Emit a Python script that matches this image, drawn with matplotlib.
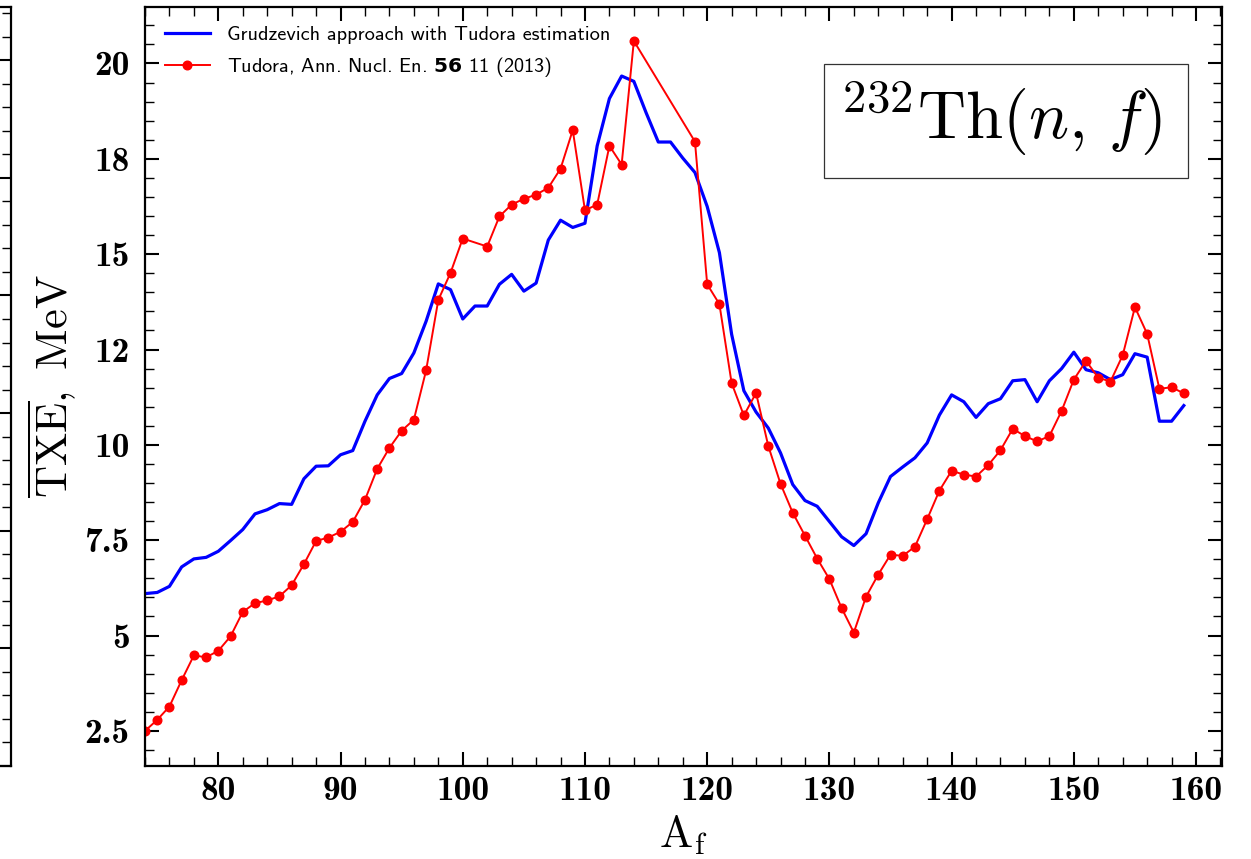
import matplotlib
matplotlib.use("Agg")
import matplotlib.pyplot as plt
import numpy as np
from matplotlib.font_manager import FontProperties
from matplotlib.patches import Rectangle
from matplotlib.ticker import MultipleLocator

plt.rcParams["mathtext.fontset"] = "cm"

# Grudzevich approach with Tudora estimation (every fragment mass)
a_grud = np.arange(74, 160)
txe_grud = [6.10, 6.13, 6.29, 6.80, 7.01, 7.05, 7.21, 7.49, 7.78, 8.19,
            8.30, 8.46, 8.44, 9.11, 9.44, 9.45, 9.74, 9.85, 10.62, 11.31,
            11.74, 11.87, 12.41, 13.24, 14.22, 14.07, 13.30, 13.64, 13.64, 14.21,
            14.47, 14.03, 14.24, 15.37, 15.89, 15.70, 15.81, 17.84, 19.08, 19.67,
            19.53, 18.71, 17.94, 17.94, 17.52, 17.14, 16.25, 15.04, 12.90, 11.42,
            10.86, 10.44, 9.79, 8.96, 8.54, 8.39, 7.99, 7.59, 7.36, 7.67,
            8.48, 9.17, 9.42, 9.66, 10.05, 10.78, 11.31, 11.13, 10.72, 11.08,
            11.21, 11.68, 11.71, 11.13, 11.68, 12.00, 12.43, 11.97, 11.89, 11.71,
            11.84, 12.39, 12.30, 10.62, 10.62, 11.03]

# Tudora, Ann. Nucl. En. 56 (2013)
a_tud = list(range(74, 101)) + list(range(102, 115)) + list(range(119, 160))
txe_tud = [2.50, 2.79, 3.14, 3.83, 4.48, 4.43, 4.60, 4.98, 5.62, 5.85,
           5.92, 6.03, 6.32, 6.87, 7.48, 7.57, 7.72, 7.98, 8.56, 9.37,
           9.92, 10.37, 10.66, 11.95, 13.80, 14.51, 15.41,
           15.20, 15.99, 16.30, 16.45, 16.56, 16.74, 17.24, 18.25, 16.15, 16.30,
           17.84, 17.35, 20.59,
           17.95, 14.21, 13.69, 11.62, 10.77, 11.36, 9.97, 8.98, 8.22, 7.62,
           7.02, 6.48, 5.72, 5.08, 6.02, 6.60, 7.12, 7.09, 7.33, 8.05,
           8.80, 9.32, 9.22, 9.17, 9.47, 9.86, 10.42, 10.23, 10.09, 10.23,
           10.89, 11.71, 12.20, 11.76, 11.66, 12.35, 13.61, 12.91, 11.47, 11.51,
           11.35]

ytick_pos = [2.5, 5, 7.5, 10, 12.5, 15, 17.5, 20]
ytick_lab = ["2.5", "5", "7.5", "10", "12", "15", "18", "20"]
xtick_pos = [80, 90, 100, 110, 120, 130, 140, 150, 160]

W, H = 1251, 859
fig = plt.figure(figsize=(W / 100, H / 100), dpi=100)

def style_axes(a):
    for s in a.spines.values():
        s.set_linewidth(1.6)
    a.tick_params(which="both", direction="in", top=True, right=True)
    a.tick_params(which="major", length=10, width=1.5)
    a.tick_params(which="minor", length=6.5, width=1.0)

# neighbouring panel, only its right edge shows
side = fig.add_axes([-0.3, 93 / H, 0.3 + 11 / W, 759 / H])
side.set_xlim(0, 1)
side.set_ylim(0, 32.26)
side.yaxis.set_major_locator(MultipleLocator(5))
side.yaxis.set_minor_locator(MultipleLocator(1))
side.set_xticks([])
style_axes(side)
side.tick_params(labelleft=False, labelright=False, left=False, which="both")
side.tick_params(which="both", right=True)

ax = fig.add_axes([145 / W, 93 / H, 1076.7 / W, 759 / H])
style_axes(ax)

ax.plot(a_grud, txe_grud, color="#0000ff", lw=2.3,
        label="Grudzevich approach with Tudora estimation")
ax.plot(a_tud, txe_tud, color="#ff0000", lw=1.4, marker="o", ms=6.2,
        label=r"Tudora, Ann. Nucl. En. $\mathbf{56}$ 11 (2013)")

ax.set_xlim(74, 162.1)
ax.set_ylim(1.58, 21.48)
ax.set_xticks(xtick_pos, [str(v) for v in xtick_pos])
ax.set_yticks(ytick_pos, ytick_lab)
ax.xaxis.set_minor_locator(MultipleLocator(2))
ax.yaxis.set_minor_locator(MultipleLocator(0.5))
for lab in ax.get_xticklabels() + ax.get_yticklabels():
    lab.set_fontfamily("cmb10")
    lab.set_fontsize(25.5)
ax.tick_params(axis="y", which="major", pad=11)
ax.tick_params(axis="x", which="major", pad=7)

ax.set_ylabel(r"$\overline{\mathrm{TXE}}\mathrm{,\ MeV}$", fontsize=32)
ax.yaxis.set_label_coords(-0.061, 0.5)
ax.set_xlabel(r"$\mathrm{A_f}$", fontsize=32)
ax.xaxis.set_label_coords(0.5, -0.062)

leg_font = FontProperties(family="cmss10", size=14.6, math_fontfamily="dejavusans")
ax.legend(loc="upper left", bbox_to_anchor=(20 / 1076.7, (766 - 26) / 759),
          frameon=False, prop=leg_font, borderaxespad=0, borderpad=0,
          handlelength=2.2, handletextpad=0.85, labelspacing=0.55)

ax.add_patch(Rectangle((0.6306, 0.7747), 0.3381, 0.1502, transform=ax.transAxes,
                       fill=False, ec="#333333", lw=0.9, zorder=5))
ax.text(0.795, 0.852, r"$^{232}\mathrm{Th}(n,\,f)$", transform=ax.transAxes,
        fontsize=48, ha="center", va="center", zorder=6)

fig.savefig("out.png", dpi=100)
